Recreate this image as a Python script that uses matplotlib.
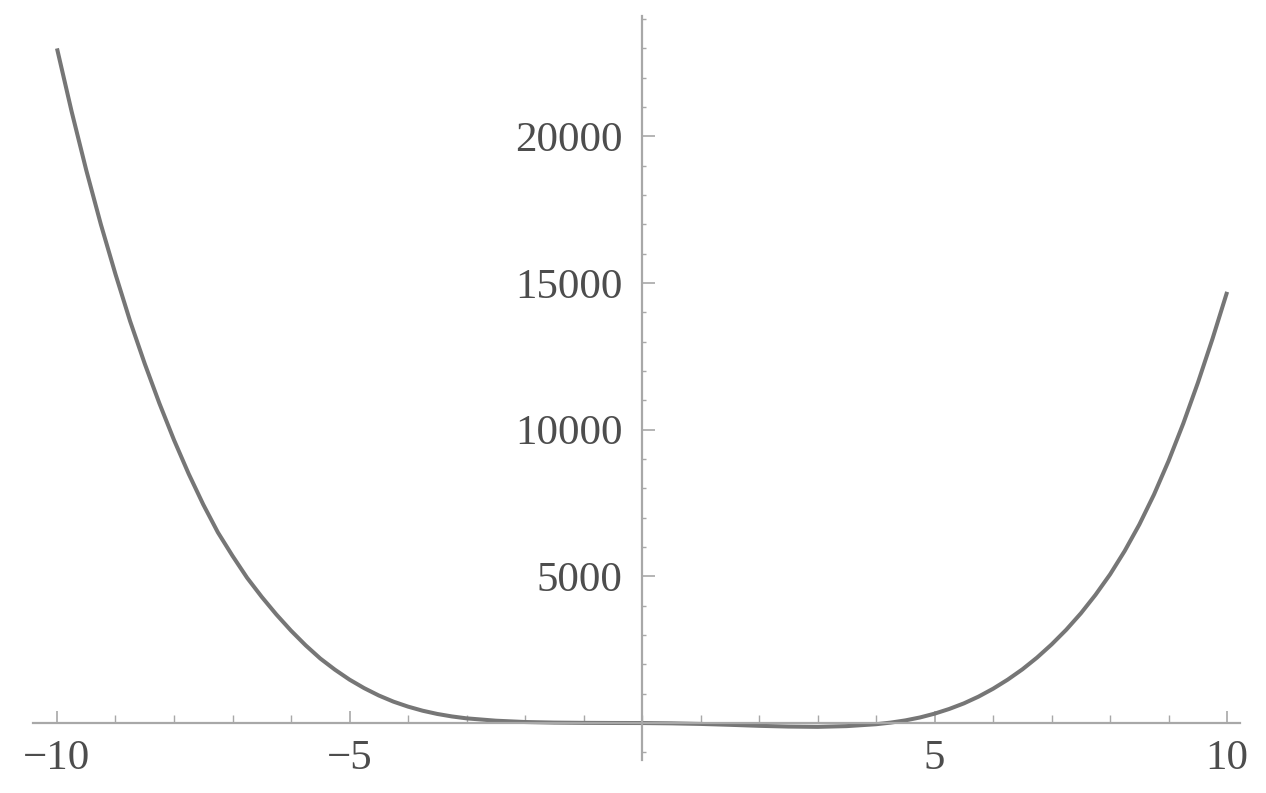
import numpy as np
import matplotlib
matplotlib.use("Agg")
import matplotlib.pyplot as plt
from matplotlib.ticker import MultipleLocator, FixedLocator

# values (finer spacing where the curve is steep)
x_vals = [-10, -9.75, -9.5, -9.25, -9, -8.75, -8.5, -8.25, -8, -7.75, -7.5,
          -7.25, -7, -6.75, -6.5, -6.25, -6, -5.75, -5.5, -5.25, -5, -4.75,
          -4.5, -4.25, -4, -3.75, -3.5, -3.25, -3, -2.5, -2, -1.5, -1, -0.5,
          0, 0.5, 1, 1.5, 2, 2.5, 3, 3.5, 4, 4.25, 4.5, 4.75, 5, 5.25, 5.5,
          5.75, 6, 6.25, 6.5, 6.75, 7, 7.25, 7.5, 7.75, 8, 8.25, 8.5, 8.75,
          9, 9.25, 9.5, 9.75, 10]
y_vals = [23000, 20850, 18850, 17000, 15300, 13700, 12250, 10900, 9650, 8500,
          7450, 6500, 5700, 4950, 4300, 3700, 3150, 2650, 2200, 1820, 1480,
          1190, 940, 730, 560, 420, 310, 225, 160, 80, 35, 15, 6, 2,
          0, -10, -30, -60, -95, -120, -130, -105, -40, 15, 90, 190, 320, 480,
          670, 900, 1170, 1480, 1830, 2230, 2680, 3180, 3740, 4370, 5070, 5870,
          6770, 7790, 8940, 10210, 11600, 13100, 14700]

x_major = [-10, -5, 5, 10]
x_labels = ["\u221210", "\u22125", "5", "10"]
y_major = [5000, 10000, 15000, 20000]
y_labels = ["5000", "10000", "15000", "20000"]

fig = plt.figure(figsize=(12.66, 7.93), dpi=100)
ax = fig.add_axes([33 / 1266, 1 - 760 / 793, (1240 - 33) / 1266, (760 - 16) / 793])

ax.plot(x_vals, y_vals, color="#767676", lw=2.9, solid_capstyle="butt",
        solid_joinstyle="round")

ax.set_xlim(-10.41, 10.22)
ax.set_ylim(-1260, 24105)

axis_col = "#a8a8a8"
for side in ["top", "right"]:
    ax.spines[side].set_visible(False)
ax.spines["left"].set_position(("data", 0))
ax.spines["bottom"].set_position(("data", 0))
ax.spines["left"].set_color(axis_col)
ax.spines["bottom"].set_color(axis_col)
ax.spines["left"].set_linewidth(1.6)
ax.spines["bottom"].set_linewidth(1.6)

ax.xaxis.set_major_locator(FixedLocator(x_major))
ax.set_xticklabels(x_labels)
ax.xaxis.set_minor_locator(MultipleLocator(1))
ax.yaxis.set_major_locator(FixedLocator(y_major))
ax.set_yticklabels(y_labels)
ax.yaxis.set_minor_locator(MultipleLocator(1000))

for lab in ax.get_xticklabels() + ax.get_yticklabels():
    lab.set_fontfamily("Liberation Serif")
    lab.set_fontsize(31)
    lab.set_color("#4d4d4d")

ax.tick_params(axis="x", which="major", direction="in", length=9, width=1.2,
               color=axis_col, pad=12)
ax.tick_params(axis="x", which="minor", direction="in", length=6, width=1.0,
               color=axis_col)
ax.tick_params(axis="y", which="major", direction="in", length=9, width=1.2,
               color=axis_col, pad=14)
ax.tick_params(axis="y", which="minor", direction="in", length=3, width=1.0,
               color=axis_col)

plt.savefig("out.png", dpi=100, facecolor="white")
